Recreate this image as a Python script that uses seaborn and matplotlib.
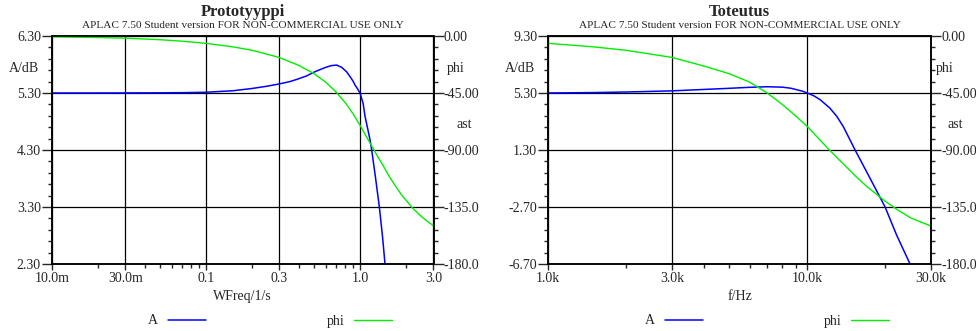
import matplotlib
matplotlib.use("Agg")
import matplotlib.pyplot as plt
import seaborn as sns
import pandas as pd
from matplotlib.ticker import FixedLocator, FixedFormatter, AutoMinorLocator, LogLocator, NullFormatter

# ---------------- data ----------------
# Prototype (left panel)
proto_f_A = [0.01, 0.02, 0.03, 0.05, 0.07, 0.1, 0.15, 0.2, 0.25, 0.3, 0.35, 0.39, 0.45, 0.497, 0.55,
             0.6, 0.65, 0.706, 0.76, 0.82, 0.86, 0.9, 0.928, 0.96, 1.0, 1.047, 1.078, 1.12, 1.161,
             1.191, 1.26, 1.335, 1.40, 1.453]
proto_A = [5.30, 5.30, 5.301, 5.303, 5.306, 5.313, 5.34, 5.38, 5.42, 5.46, 5.50, 5.54, 5.60, 5.66, 5.71,
           5.75, 5.78, 5.79, 5.75, 5.67, 5.59, 5.51, 5.44, 5.38, 5.30, 5.12, 4.89, 4.68, 4.48,
           4.30, 3.82, 3.30, 2.78, 2.30]
proto_f_phi = [0.01, 0.02, 0.03, 0.05, 0.07, 0.1, 0.15, 0.2, 0.3, 0.4, 0.5, 0.6, 0.7, 0.8, 0.9, 1.0,
               1.1, 1.2, 1.3, 1.4, 1.55, 1.7, 1.85, 2.0, 2.2, 2.5, 2.75, 3.0]
proto_phi = [-0.6, -1.2, -1.7, -2.9, -4.1, -5.8, -8.6, -11.3, -17.0, -23.2, -29.5, -36.5, -44.3, -52.5,
             -61.3, -70.5, -79.5, -87.5, -95.0, -101.5, -111.0, -118.5, -125.0, -130.0, -136.0,
             -142.5, -146.5, -149.8]

# Realisation (right panel)
real_f_A = [1000, 1500, 2000, 3000, 4000, 5000, 6000, 7000, 8000, 8600, 9100, 9600, 10000, 10600,
            11200, 12200, 13000, 13770, 15280, 17460, 19950, 22100, 24900]
real_A = [5.30, 5.33, 5.37, 5.45, 5.55, 5.63, 5.70, 5.74, 5.71, 5.64, 5.53, 5.42, 5.30, 5.10,
          4.83, 4.25, 3.65, 2.93, 1.30, -0.69, -2.70, -4.67, -6.70]
real_f_phi = [1000, 1500, 2000, 3000, 4000, 5000, 6000, 7000, 8000, 9000, 10000, 11000, 12100, 13000,
              14000, 15500, 17000, 18500, 20000, 22000, 25000, 27500, 30000]
real_phi = [-5.8, -8.6, -11.3, -16.9, -23.8, -29.8, -36.5, -45.0, -54.0, -63.0, -71.5, -80.5, -89.5,
            -96.0, -102.5, -111.5, -119.0, -125.0, -130.5, -136.5, -143.5, -147.0, -150.0]

# axes / ticks
proto_xticks = [0.01, 0.03, 0.1, 0.3, 1.0, 3.0]
proto_xlabels = ["10.0m", "30.0m", "0.1", "0.3", "1.0", "3.0"]
real_xticks = [1000, 3000, 10000, 30000]
real_xlabels = ["1.0k", "3.0k", "10.0k", "30.0k"]
proto_yticks = [2.30, 3.30, 4.30, 5.30, 6.30]
real_yticks = [-6.70, -2.70, 1.30, 5.30, 9.30]
phi_ticks = [-180, -135, -90, -45, 0]
phi_labels = ["-180.0", "-135.0", "-90.00", "-45.00", "0.00"]

titles = ["Prototyyppi", "Toteutus"]
subtitle = "APLAC 7.50 Student version FOR NON-COMMERCIAL USE ONLY"
xlabels = ["WFreq/1/s", "f/Hz"]

# ---------------- style ----------------
sns.set_style("white")
plt.rcParams["font.family"] = ["Liberation Serif", "DejaVu Serif"]
plt.rcParams["axes.linewidth"] = 1.1

BLUE = "#0000ff"
GREEN = "#00ee00"
FS = 10

fig = plt.figure(figsize=(9.76, 3.31), dpi=100)
W, H = 976.0, 331.0
ax_l = fig.add_axes([52 / W, 67 / H, 381.5 / W, 228 / H])
ax_r = fig.add_axes([548.3 / W, 67 / H, 382.7 / W, 228 / H])

panels = [
    (ax_l, proto_f_A, proto_A, proto_f_phi, proto_phi, proto_xticks, proto_xlabels, proto_yticks,
     (0.01, 3.0), dict(dblab=(-0.0734, 0.8596), phi=(1.0577, 0.8596), ast=(1.0813, 0.614), leg=0.572)),
    (ax_r, real_f_A, real_A, real_f_phi, real_phi, real_xticks, real_xlabels, real_yticks,
     (1000, 30000), dict(dblab=(-0.0740, 0.8596), phi=(1.037, 0.8596), ast=(1.0629, 0.614), leg=0.571)),
]

for i, (ax, fa, a, fp, p, xt, xl, yt, xlim, lab) in enumerate(panels):
    tw = ax.twinx()
    dfa = pd.DataFrame({"f": fa, "A": a})
    dfp = pd.DataFrame({"f": fp, "phi": p})
    sns.lineplot(data=dfa, x="f", y="A", ax=ax, color=BLUE, lw=1.1, label="A", legend=False)
    sns.lineplot(data=dfp, x="f", y="phi", ax=tw, color=GREEN, lw=1.0, label="phi", legend=False)

    ax.set_xscale("log")
    ax.set_xlim(*xlim)
    ax.set_ylim(yt[0], yt[-1])
    tw.set_ylim(-180, 0)

    ax.xaxis.set_major_locator(FixedLocator(xt))
    ax.xaxis.set_major_formatter(FixedFormatter(xl))
    ax.xaxis.set_minor_locator(LogLocator(base=10, subs=(2, 3, 4, 5, 6, 7, 8, 9), numticks=20))
    ax.xaxis.set_minor_formatter(NullFormatter())

    ax.yaxis.set_major_locator(FixedLocator(yt))
    ax.yaxis.set_major_formatter(FixedFormatter(["%.2f" % v for v in yt]))
    ax.yaxis.set_minor_locator(AutoMinorLocator(5))
    tw.yaxis.set_major_locator(FixedLocator(phi_ticks))
    tw.yaxis.set_major_formatter(FixedFormatter(phi_labels))
    tw.yaxis.set_minor_locator(AutoMinorLocator(5))

    ax.tick_params(axis="y", which="major", direction="out", length=7, width=1.0, pad=1, labelsize=FS, left=True, right=False)
    ax.tick_params(axis="y", which="minor", direction="out", length=3, width=1.0, left=True, right=False)
    ax.tick_params(axis="x", which="major", direction="out", length=4, width=1.0, pad=2, labelsize=FS, bottom=True, top=False)
    ax.tick_params(axis="x", which="minor", direction="out", length=3, width=1.0, bottom=True, top=False)
    tw.tick_params(axis="y", which="major", direction="out", length=7, width=1.0, pad=0.3, labelsize=FS, right=True, left=False)
    tw.tick_params(axis="y", which="minor", direction="out", length=3, width=1.0, right=True, left=False)

    ax.grid(True, which="major", color="black", lw=0.9)
    ax.grid(False, which="minor")
    tw.grid(False)
    ax.set_xlabel(xlabels[i], fontsize=FS, labelpad=3.5)
    ax.set_ylabel("")
    tw.set_ylabel("")
    for s in list(ax.spines.values()) + list(tw.spines.values()):
        s.set_color("black")

    ax.text(0.5, 1.1053, titles[i], transform=ax.transAxes, ha="center", va="center",
            fontsize=12, fontweight="bold")
    ax.text(0.5, 1.0439, subtitle, transform=ax.transAxes, ha="center", va="center", fontsize=8.1)
    ax.text(*lab["dblab"], "A/dB", transform=ax.transAxes, ha="center", va="center", fontsize=FS)
    ax.text(*lab["phi"], "phi", transform=ax.transAxes, ha="center", va="center", fontsize=FS)
    ax.text(*lab["ast"], "ast", transform=ax.transAxes, ha="center", va="center", fontsize=FS)

    handles = [ax.lines[0], tw.lines[0]]
    ax.legend(handles, ["A", "phi"], markerfirst=False, ncol=2, frameon=False,
              loc="center", bbox_to_anchor=(lab["leg"], (-67 + 10) / 228.0), fontsize=FS,
              handlelength=2.73, handletextpad=0.7, columnspacing=8.7)

fig.savefig("out.png", dpi=100)
